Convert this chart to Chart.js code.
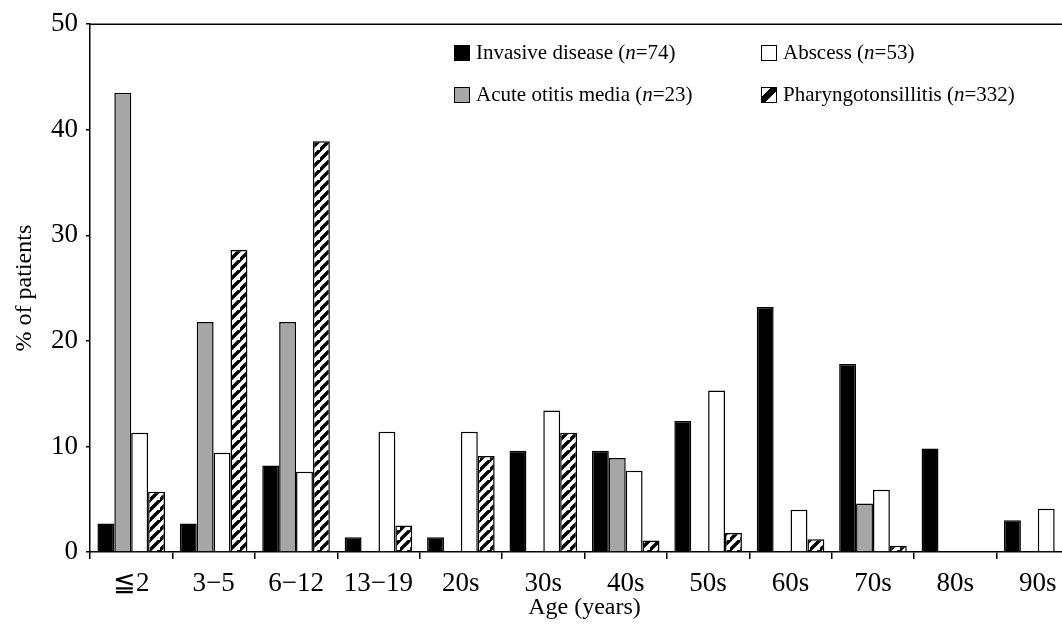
<!DOCTYPE html>
<html>
<head>
<meta charset="utf-8">
<script src="https://cdn.jsdelivr.net/npm/chart.js@4.4.0/dist/chart.umd.min.js"></script>
<style>
  html, body { margin:0; padding:0; background:#fff; overflow:hidden; }
  #wrap { position:relative; width:1062px; height:625px; overflow:hidden; }
  #c { position:absolute; left:0; top:0; }
  .lg { position:absolute; font-family:"Liberation Serif", "Times New Roman", serif; font-size:21px; color:#000; white-space:nowrap; line-height:24px; }
  .lg .box { display:inline-block; width:16px; height:16px; border:1.5px solid #000; box-sizing:border-box; vertical-align:-2px; margin-right:6px; }
</style>
</head>
<body>
<div id="wrap">
  <canvas id="c" width="1085" height="625"></canvas>
  <div class="lg" style="left:454px; top:40px;"><span class="box" style="background:#000"></span>Invasive disease (<i>n</i>=74)</div>
  <div class="lg" style="left:761px; top:40px;"><span class="box" style="background:#fff"></span>Abscess (<i>n</i>=53)</div>
  <div class="lg" style="left:454px; top:82px;"><span class="box" style="background:#a8a8a8"></span>Acute otitis media (<i>n</i>=23)</div>
  <div class="lg" style="left:761px; top:82px;"><span class="box" style="background:linear-gradient(135deg,#fff 0 30%,#000 30% 62%,#fff 62% 100%)"></span>Pharyngotonsillitis (<i>n</i>=332)</div>
</div>
<script>
const categories = ["\u22662", "3\u22125", "6\u221212", "13\u221219", "20s", "30s", "40s", "50s", "60s", "70s", "80s", "90s"];
const invasive    = [2.7, 2.7, 8.2, 1.4, 1.4, 9.6, 9.6, 12.4, 23.2, 17.8, 9.8, 3.0];
const otitis      = [43.5, 21.8, 21.8, 0, 0, 0, 8.9, 0, 0, 4.6, 0, 0];
const abscess     = [11.3, 9.4, 7.6, 11.4, 11.4, 13.4, 7.7, 15.3, 4.0, 5.9, 0, 4.1];
const pharyngo    = [5.7, 28.6, 38.9, 2.5, 9.1, 11.3, 1.1, 1.8, 1.2, 0.6, 0, 0];
const yTicks      = [0, 10, 20, 30, 40, 50];

function hatch() {
  const s = 10;
  const p = document.createElement('canvas');
  p.width = s; p.height = s;
  const g = p.getContext('2d');
  g.fillStyle = '#fff'; g.fillRect(0, 0, s, s);
  g.strokeStyle = '#000'; g.lineWidth = 3.4;
  g.beginPath();
  g.moveTo(-2, s + 2); g.lineTo(s + 2, -2);
  g.moveTo(-2 - s, s + 2); g.lineTo(2, -2);
  g.moveTo(s - 2, 2 * s + 2); g.lineTo(2 * s + 2, s - 2);
  g.stroke();
  return document.getElementById('c').getContext('2d').createPattern(p, 'repeat');
}

const serif = "'Liberation Serif', 'DejaVu Serif', serif";

const frame = {
  id: 'frame',
  afterDraw(chart) {
    const a = chart.chartArea, ctx = chart.ctx;
    ctx.save();
    ctx.strokeStyle = '#000'; ctx.lineWidth = 1.5;
    ctx.beginPath();
    ctx.moveTo(a.left, a.top); ctx.lineTo(a.right, a.top);
    ctx.stroke();
    ctx.restore();
  }
};

const common = { borderColor: '#000', borderWidth: 1.5, categoryPercentage: 0.82, barPercentage: 1.0 };

new Chart(document.getElementById('c'), {
  type: 'bar',
  data: {
    labels: categories,
    datasets: [
      Object.assign({ label: 'Invasive disease (n=74)', data: invasive, backgroundColor: '#000' }, common),
      Object.assign({ label: 'Acute otitis media (n=23)', data: otitis, backgroundColor: '#a6a6a6' }, common),
      Object.assign({ label: 'Abscess (n=53)', data: abscess, backgroundColor: '#fff' }, common),
      Object.assign({ label: 'Pharyngotonsillitis (n=332)', data: pharyngo, backgroundColor: hatch() }, common)
    ]
  },
  options: {
    responsive: false,
    animation: false,
    layout: { padding: { left: 0, right: 6, top: 22, bottom: 0 } },
    plugins: { legend: { display: false }, tooltip: { enabled: false } },
    scales: {
      x: {
        offset: true,
        grid: { offset: true, drawOnChartArea: false, drawTicks: true, tickLength: 7, color: '#000', lineWidth: 1.5 },
        border: { color: '#000', width: 1.5 },
        ticks: { color: '#000', font: { family: serif, size: 27 }, padding: 9, maxRotation: 0, autoSkip: false },
        title: { display: true, text: 'Age (years)', color: '#000', font: { family: serif, size: 24 }, padding: { top: 0, bottom: 3 } },
        afterFit(s) { s.height = 73; }
      },
      y: {
        min: 0, max: 50,
        afterBuildTicks(s) { s.ticks = yTicks.map(v => ({ value: v })); },
        grid: { drawOnChartArea: false, drawTicks: true, tickLength: 4, color: '#000', lineWidth: 1.5 },
        border: { color: '#000', width: 1.5 },
        ticks: { color: '#000', font: { family: serif, size: 27 }, padding: 8 },
        title: { display: true, text: '% of patients', color: '#000', font: { family: serif, size: 24 }, padding: { top: 10, bottom: 0 } },
        afterFit(s) { s.width = 90; }
      }
    }
  },
  plugins: [frame]
});
</script>
</body>
</html>
